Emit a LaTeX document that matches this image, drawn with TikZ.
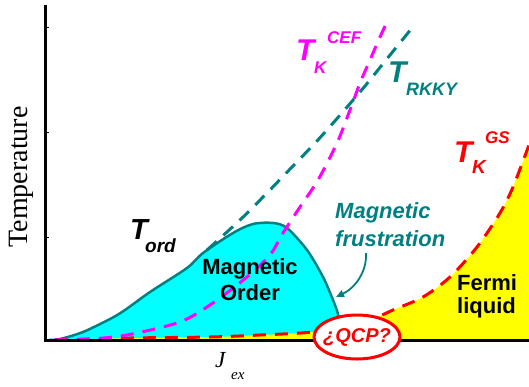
\documentclass[tikz,border=0pt]{standalone}
\usepackage{fontspec}
\setmainfont{Liberation Serif}
\newfontfamily\arial{Liberation Sans}
\usetikzlibrary{arrows.meta,shapes.geometric}
\definecolor{tealc}{RGB}{0,128,128}
\definecolor{mag}{RGB}{255,0,255}
\definecolor{redc}{RGB}{255,0,0}
\definecolor{yel}{RGB}{255,255,0}
\definecolor{cyanc}{RGB}{0,255,255}
\newcommand{\fs}[1]{\fontsize{#1}{#1}\selectfont}
\begin{document}
\begin{tikzpicture}[x=1pt,y=-1pt,
  lbl/.style={font=\arial\bfseries\itshape, inner sep=0pt, anchor=base west},
  plain/.style={font=\arial\bfseries, inner sep=0pt, anchor=base west},
  dashcurve/.style={line width=3pt, dash pattern=on 13pt off 9pt},
  axisline/.style={line width=3pt, black}]
\useasboundingbox (0,0) rectangle (529,386);
% magnetic order region
\fill[cyanc] plot[smooth, tension=0.5] coordinates {(46,340) (60,339) (83,332) (110,319) (125,310) (150,292) (187,268) (203,253) (233,233) (253,224) (273,223) (287,228) (307,250) (323,277) (333,300) (338,314) (340,332)} -- (340,340) -- cycle;
\draw[tealc, line width=2.5pt] plot[smooth, tension=0.5] coordinates {(48,340) (60,339) (83,332) (110,319) (125,310) (150,292) (187,268) (203,253) (233,233) (253,224) (273,223) (287,228) (307,250) (323,277) (333,300) (338,314) (338,320)};
% Fermi liquid region
\fill[yel] plot[smooth, tension=0.5] coordinates {(55,340) (130,338) (210,337) (260,335) (313,332) (360,324) (393,310) (423,297) (450,277) (477,247) (500,213) (513,187) (529,145)} -- (529,340) -- cycle;
\draw[redc, dashcurve] plot[smooth, tension=0.5] coordinates {(55,340) (130,338) (210,337) (260,335) (313,332) (360,324) (393,310) (423,297) (450,277) (477,247) (500,213) (513,187) (529,145)};
% T_K^CEF
\draw[mag, dashcurve] plot[smooth, tension=0.5] coordinates {(55,340) (90,339) (127,335) (180,322) (213,303) (247,277) (270,255) (283,233) (300,207) (318,180) (337,143) (350,110) (360,83) (370,60) (380,37) (388,20)};
% T_RKKY
\draw[tealc, dashcurve] plot[smooth, tension=0.5] coordinates {(207,250) (240,220) (267,193) (292,167) (317,141) (341,114) (365,86) (386,60) (412,28)};
% axes
\draw[axisline] (45,5) -- (45,341.5);
\draw[axisline] (43.5,340) -- (529,340);
\foreach \yy in {27,132,237} \draw[line width=1pt] (45,\yy) -- (49,\yy);
% QCP
\node[draw=redc, fill=white, line width=3pt, ellipse, minimum width=86pt, minimum height=44pt, inner sep=0pt] (qcp) at (357,337) {};
\node[font=\arial\bfseries\itshape\fs{20}, text=redc, inner sep=0pt] (qcpt) at (357,337) {¿QCP?};
% labels
\node[lbl, font=\arial\bfseries\itshape\fs{30}, text=mag] (tk1) at (296,60) {T};
\node[lbl, font=\arial\bfseries\itshape\fs{17}, text=mag] (tk1s) at (314,73) {K};
\node[lbl, font=\arial\bfseries\itshape\fs{17}, text=mag] (tk1p) at (327,43) {CEF};
\node[lbl, font=\arial\bfseries\itshape\fs{30}, text=tealc] (tr) at (388,82) {T};
\node[lbl, font=\arial\bfseries\itshape\fs{18}, text=tealc] (trs) at (406,95) {RKKY};
\node[lbl, font=\arial\bfseries\itshape\fs{30}, text=redc] (tg) at (454,162) {T};
\node[lbl, font=\arial\bfseries\itshape\fs{19}, text=redc] (tgs) at (472,173) {K};
\node[lbl, font=\arial\bfseries\itshape\fs{17}, text=redc] (tgp) at (485,143) {GS};
\node[lbl, font=\arial\bfseries\itshape\fs{29}, text=black] (to) at (130,239) {T};
\node[lbl, font=\arial\bfseries\itshape\fs{19}, text=black] (tos) at (145,252) {ord};
\node[plain, anchor=base, font=\arial\bfseries\fs{22}] (mo1) at (250,274) {Magnetic};
\node[plain, anchor=base, font=\arial\bfseries\fs{22}] (mo2) at (250,300) {Order};
\node[lbl, font=\arial\bfseries\itshape\fs{22}, text=tealc] (mf1) at (335,218) {Magnetic};
\node[lbl, font=\arial\bfseries\itshape\fs{22}, text=tealc] (mf2) at (335,246) {frustration};
\node[plain, font=\arial\bfseries\fs{22}] (fl1) at (457,290) {Fermi};
\node[plain, font=\arial\bfseries\fs{22}] (fl2) at (457,313) {liquid};
\coordinate (arrS) at (366,253);
\coordinate (arrE) at (336,297);
\draw[tealc, line width=1.8pt, -{Triangle[length=8pt,width=7pt]}] (arrS) .. controls (367,272) and (355,288) .. (arrE);
\node[rotate=90, font=\fs{28}, inner sep=0pt] (temp) at (21,177) {Temperature};
\node[anchor=base west, font=\itshape\fs{23}, inner sep=0pt] (jj) at (215,367) {J};
\node[anchor=base west, font=\itshape\fs{15}, inner sep=0pt] (jjs) at (231,379) {ex};
\end{tikzpicture}
\end{document}
